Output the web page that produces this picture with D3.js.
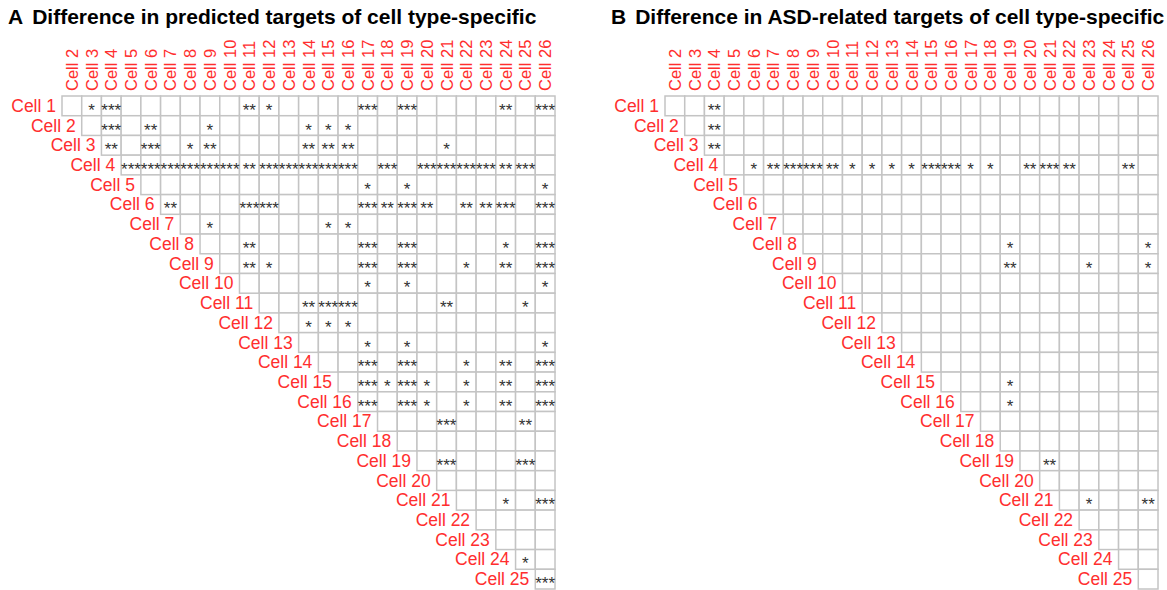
<!DOCTYPE html>
<html>
<head>
<meta charset="utf-8">
<script src="https://cdn.jsdelivr.net/npm/d3@7"></script>
<style>
  body { margin: 0; background: #fff; }
  svg { font-family: "Liberation Sans", Arial, sans-serif; }
</style>
</head>
<body>
<svg width="1167" height="590"></svg>
<script>
// row cells are Cell 1..25, column cells are Cell 2..26
var rowNames = d3.range(1, 26).map(function (i) { return "Cell " + i; });
var colNames = d3.range(2, 27).map(function (i) { return "Cell " + i; });

var titles = ["Difference in predicted targets of cell type-specific",
              "Difference in ASD-related targets of cell type-specific"];
var panelLetters = ["A", "B"];

// significant pairs: [row cell, column cell, stars]
var sigA = [
  [1,3,"*"],[1,4,"***"],[1,11,"**"],[1,12,"*"],[1,17,"***"],[1,19,"***"],[1,24,"**"],[1,26,"***"],
  [2,4,"***"],[2,6,"**"],[2,9,"*"],[2,14,"*"],[2,15,"*"],[2,16,"*"],
  [3,4,"**"],[3,6,"***"],[3,8,"*"],[3,9,"**"],[3,14,"**"],[3,15,"**"],[3,16,"**"],[3,21,"*"],
  [4,5,"***"],[4,6,"***"],[4,7,"***"],[4,8,"***"],[4,9,"***"],[4,10,"***"],[4,11,"**"],
  [4,12,"***"],[4,13,"***"],[4,14,"***"],[4,15,"***"],[4,16,"***"],[4,18,"***"],
  [4,20,"***"],[4,21,"***"],[4,22,"***"],[4,23,"***"],[4,24,"**"],[4,25,"***"],
  [5,17,"*"],[5,19,"*"],[5,26,"*"],
  [6,7,"**"],[6,11,"***"],[6,12,"***"],[6,17,"***"],[6,18,"**"],[6,19,"***"],[6,20,"**"],
  [6,22,"**"],[6,23,"**"],[6,24,"***"],[6,26,"***"],
  [7,9,"*"],[7,15,"*"],[7,16,"*"],
  [8,11,"**"],[8,17,"***"],[8,19,"***"],[8,24,"*"],[8,26,"***"],
  [9,11,"**"],[9,12,"*"],[9,17,"***"],[9,19,"***"],[9,22,"*"],[9,24,"**"],[9,26,"***"],
  [10,17,"*"],[10,19,"*"],[10,26,"*"],
  [11,14,"**"],[11,15,"***"],[11,16,"***"],[11,21,"**"],[11,25,"*"],
  [12,14,"*"],[12,15,"*"],[12,16,"*"],
  [13,17,"*"],[13,19,"*"],[13,26,"*"],
  [14,17,"***"],[14,19,"***"],[14,22,"*"],[14,24,"**"],[14,26,"***"],
  [15,17,"***"],[15,18,"*"],[15,19,"***"],[15,20,"*"],[15,22,"*"],[15,24,"**"],[15,26,"***"],
  [16,17,"***"],[16,19,"***"],[16,20,"*"],[16,22,"*"],[16,24,"**"],[16,26,"***"],
  [17,21,"***"],[17,25,"**"],
  [19,21,"***"],[19,25,"***"],
  [21,24,"*"],[21,26,"***"],
  [24,25,"*"],
  [25,26,"***"]
];

var sigB = [
  [1,4,"**"],[2,4,"**"],[3,4,"**"],
  [4,6,"*"],[4,7,"**"],[4,8,"***"],[4,9,"***"],[4,10,"**"],[4,11,"*"],[4,12,"*"],
  [4,13,"*"],[4,14,"*"],[4,15,"***"],[4,16,"***"],[4,17,"*"],[4,18,"*"],
  [4,20,"**"],[4,21,"***"],[4,22,"**"],[4,25,"**"],
  [8,19,"*"],[8,26,"*"],
  [9,19,"**"],[9,23,"*"],[9,26,"*"],
  [15,19,"*"],[16,19,"*"],
  [19,21,"**"],
  [21,23,"*"],[21,26,"**"]
];

var svg = d3.select("svg");
var cell = 19.72,
    gridTop = 96,
    red = "#ff2e2e";

function drawPanel(x0, letter, title, sig) {
  var x = d3.scaleBand().domain(colNames).range([x0, x0 + cell * colNames.length]);
  var y = d3.scaleBand().domain(rowNames).range([gridTop, gridTop + cell * rowNames.length]);

  var g = svg.append("g");

  var t = g.append("text")
    .attr("x", x0 - 54)
    .attr("y", 24)
    .attr("font-size", 21)
    .attr("font-weight", "bold")
    .attr("fill", "#000");
  t.append("tspan").text(letter);
  t.append("tspan").attr("dx", 9).text(title);

  // upper triangle of cells
  var cells = [];
  rowNames.forEach(function (r, i) {
    colNames.forEach(function (c, j) {
      if (j >= i) cells.push({r: r, c: c});
    });
  });

  g.selectAll("rect.cell")
    .data(cells)
    .enter().append("rect")
    .attr("class", "cell")
    .attr("x", function (d) { return x(d.c); })
    .attr("y", function (d) { return y(d.r); })
    .attr("width", x.bandwidth())
    .attr("height", y.bandwidth())
    .attr("fill", "#fff")
    .attr("stroke", "#c4c4c4")
    .attr("stroke-width", 1.5);

  // column labels
  g.selectAll("text.col")
    .data(colNames)
    .enter().append("text")
    .attr("class", "col")
    .attr("transform", function (d) {
      return "translate(" + (x(d) + x.bandwidth() / 2 + 6) + "," + (gridTop - 5) + ") rotate(-90)";
    })
    .attr("font-size", 16.5)
    .attr("fill", red)
    .text(function (d) { return d; });

  // row labels, right aligned at the start of each row
  g.selectAll("text.row")
    .data(rowNames)
    .enter().append("text")
    .attr("class", "row")
    .attr("x", function (d, i) { return x(colNames[i]) - 6; })
    .attr("y", function (d) { return y(d) + y.bandwidth() / 2 + 6; })
    .attr("text-anchor", "end")
    .attr("font-size", 17.5)
    .attr("fill", red)
    .text(function (d) { return d; });

  g.selectAll("text.sig")
    .data(sig)
    .enter().append("text")
    .attr("class", "sig")
    .attr("x", function (d) { return x("Cell " + d[1]) + x.bandwidth() / 2; })
    .attr("y", function (d) { return y("Cell " + d[0]) + y.bandwidth() / 2 + 10; })
    .attr("text-anchor", "middle")
    .attr("font-size", 17)
    .attr("fill", "#333")
    .text(function (d) { return d[2]; });
}

drawPanel(62, panelLetters[0], titles[0], sigA);
drawPanel(665, panelLetters[1], titles[1], sigB);
</script>
</body>
</html>
